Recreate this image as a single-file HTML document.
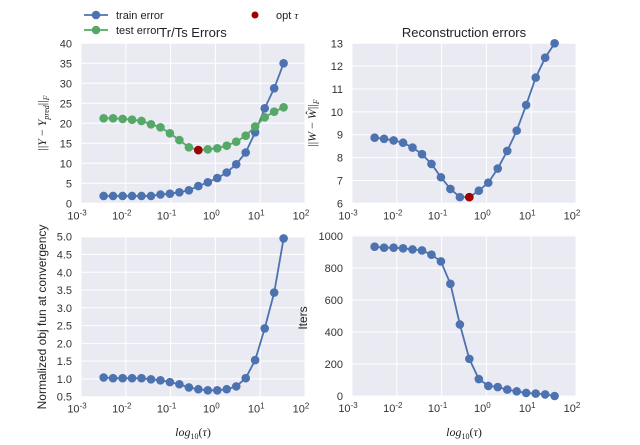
<!DOCTYPE html>
<html><head><meta charset="utf-8"><style>
body{margin:0;background:#fff;}
svg{font-family:"Liberation Sans",sans-serif;}
</style></head><body>
<svg id="c" width="640" height="440" xmlns="http://www.w3.org/2000/svg"></svg>
<script>
const taus = [0.0032,0.0052,0.0085,0.0138,0.0224,0.0365,0.0594,0.0966,0.157,0.256,0.416,0.677,1.10,1.79,2.92,4.75,7.72,12.6,20.5,33.3];
const trainErr = [1.83,1.83,1.83,1.83,1.83,1.83,2.2,2.4,2.75,3.25,4.3,5.25,6.3,7.7,9.75,12.7,17.75,23.75,28.75,35];
const testErr = [21.25,21.25,21.1,20.9,20.6,19.75,19,17.5,15.8,14,13.3,13.5,13.75,14.4,15.4,16.9,19.2,21.5,22.9,24];
const recon = [8.87,8.82,8.75,8.65,8.44,8.15,7.72,7.14,6.63,6.27,6.27,6.55,6.9,7.52,8.29,9.18,10.3,11.5,12.37,13.0];
const objFun = [1.04,1.02,1.02,1.02,1.02,0.99,0.96,0.91,0.85,0.76,0.71,0.68,0.68,0.71,0.79,1.02,1.53,2.42,3.43,4.95];
const iters = [933,927,927,923,916,910,883,841,701,447,232,106,63,56,40,29,19,15,10,0];
const optIndex = 10;
const xTickExp = [-3,-2,-1,0,1,2];
const NS="http://www.w3.org/2000/svg";
const svg=document.getElementById('c');
function el(tag,attrs,parent){const e=document.createElementNS(NS,tag);for(const k in attrs)e.setAttribute(k,attrs[k]);(parent||svg).appendChild(e);return e;}
const BLUE="#4C72B0",GREEN="#55A868",RED="#A00000";
function panel(name,x0,x1,y0,y1,ymin,ymax,yticks,fmt){
  const g=el('g',{});
  
  
  const bg=el('rect',{x:x0,y:y0,width:x1-x0,height:y1-y0,fill:'#EAEAF2'},g);
  
  
  const sx=t=>x0+(Math.log10(t)+3)/5*(x1-x0);
  const sy=v=>y1-(v-ymin)/(ymax-ymin)*(y1-y0);
  xTickExp.forEach(e=>{const x=sx(Math.pow(10,e));
    el('line',{x1:x,x2:x,y1:y0,y2:y1,stroke:'#fff','stroke-width':1},g);
    const t=el('text',{x:x-4,y:y1+16,'font-size':11,fill:'#333','text-anchor':'middle'},g);
    
    
    t.textContent='10';
    const s=el('tspan',{dy:-4,'font-size':8},t);s.textContent=String(e);
  });
  yticks.forEach(v=>{const y=sy(v);
    el('line',{x1:x0,x2:x1,y1:y,y2:y,stroke:'#fff','stroke-width':1},g);
    const t=el('text',{x:x0-9,y:y+4,'font-size':11,fill:'#333','text-anchor':'end'},g);
    
    
    t.textContent=fmt(v);
  });
  return {g,sx,sy};
}
function series(p,vals,color,name){
  const pts=vals.map((v,i)=>p.sx(taus[i]).toFixed(1)+','+p.sy(v).toFixed(1)).join(' ');
  const l=el('polyline',{points:pts,fill:'none',stroke:color,'stroke-width':1.8},p.g);
  
  
  vals.forEach((v,i)=>{const c=el('circle',{cx:p.sx(taus[i]),cy:p.sy(v),r:4.3,fill:color},p.g);
    
    });
}
function opt(p,vals){const c=el('circle',{cx:p.sx(taus[optIndex]),cy:p.sy(vals[optIndex]),r:4.3,fill:RED},p.g);
  
  }
function label(x,y,txt,rot,name,extra){const t=el('text',Object.assign({x:x,y:y,'font-size':12,fill:'#222','text-anchor':'middle',transform:rot?`rotate(-90 ${x} ${y})`:''},extra||{}));
  
  
  t.innerHTML=txt;return t;}

const p1=panel('errors-panel',81,305,43.3,203.3,0,40,[0,5,10,15,20,25,30,35,40],v=>String(v));
series(p1,trainErr,BLUE,'train-error');series(p1,testErr,GREEN,'test-error');opt(p1,testErr);
const p2=panel('reconstruction-panel',352,576,43.3,203.3,6,13,[6,7,8,9,10,11,12,13],v=>String(v));
series(p2,recon,BLUE,'reconstruction-error');opt(p2,recon);
const p3=panel('objective-panel',81,305,236.7,396.7,0.5,5,[0.5,1,1.5,2,2.5,3,3.5,4,4.5,5],v=>v.toFixed(1));
series(p3,objFun,BLUE,'objective');
const p4=panel('iters-panel',352,576,236,396,0,1000,[0,200,400,600,800,1000],v=>String(v));
series(p4,iters,BLUE,'iters');

label(193,37,'Tr/Ts Errors',false,'title-errors',{'font-size':13});
label(464,37,'Reconstruction errors',false,'title-reconstruction',{'font-size':13});
label(46,123,'||<tspan font-style="italic">Y</tspan> − <tspan font-style="italic">Y<tspan font-size="8" dy="3">pred</tspan></tspan><tspan dy="-3">||</tspan><tspan font-size="8" dy="3" font-style="italic">F</tspan>',true,'y-axis-title-errors',{'font-family':'"Liberation Serif",serif'});
label(316,123,'||<tspan font-style="italic">W</tspan> − <tspan font-style="italic">Ŵ</tspan>||<tspan font-size="8" dy="3" font-style="italic">F</tspan>',true,'y-axis-title-reconstruction',{'font-family':'"Liberation Serif",serif'});
label(46,317,'Normalized obj fun at convergency',true,'y-axis-title-objective');
label(307,318,'Iters',true,'y-axis-title-iters');
label(193,436,'<tspan font-style="italic">log</tspan><tspan font-size="8" dy="3">10</tspan><tspan dy="-3">(</tspan><tspan font-style="italic">τ</tspan>)',false,'x-axis-title-left',{'font-family':'"Liberation Serif",serif'});
label(464,436,'<tspan font-style="italic">log</tspan><tspan font-size="8" dy="3">10</tspan><tspan dy="-3">(</tspan><tspan font-style="italic">τ</tspan>)',false,'x-axis-title-right',{'font-family':'"Liberation Serif",serif'});

// legend
const lg=el('g',{});


[[15,BLUE,'train error'],[30,GREEN,'test error']].forEach(([y,c,t])=>{
  el('line',{x1:84,x2:108,y1:y,y2:y,stroke:c,'stroke-width':1.8},lg);
  el('circle',{cx:96,cy:y,r:4.3,fill:c},lg);
  const tx=el('text',{x:116,y:y+4,'font-size':11,fill:'#222'},lg);tx.textContent=t;
  
  
});
el('circle',{cx:255,cy:15,r:3.5,fill:RED},lg);
const ot=el('text',{x:276,y:19,'font-size':11,fill:'#222'},lg);ot.innerHTML='opt <tspan font-style="italic" font-family="Liberation Serif,serif">τ</tspan>';


</script>
</body></html>
